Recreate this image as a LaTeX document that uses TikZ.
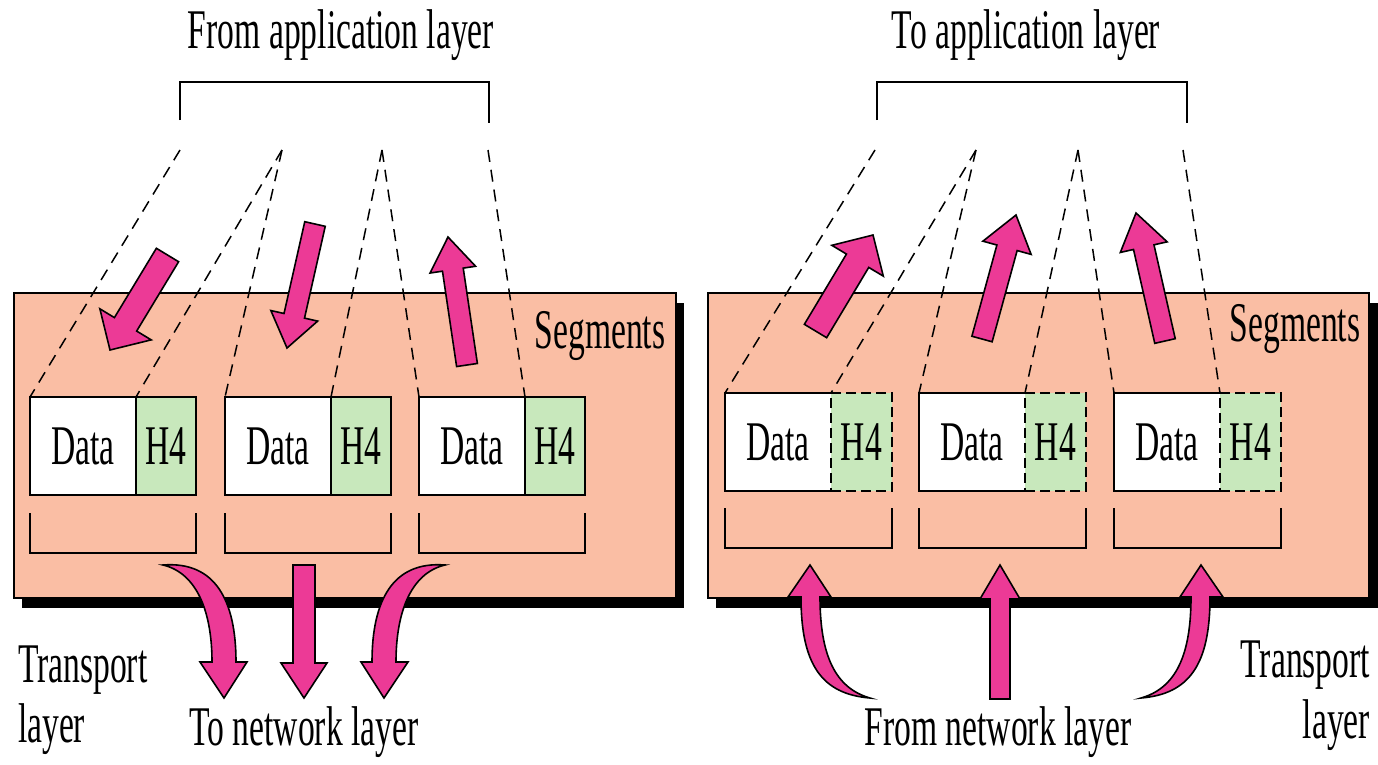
\documentclass[tikz,border=0pt]{standalone}
\usepackage{fontspec}
\newfontfamily\condserif[FakeStretch=0.6]{Liberation Serif}
\usetikzlibrary{calc}
\definecolor{salmon}{RGB}{250,190,164}
\definecolor{hdrgreen}{RGB}{200,232,188}
\definecolor{flowpink}{RGB}{236,58,150}

% block arrow from tail #1 to tip #2: half shaft #3, half head #4, head length #5
\newcommand\blockarrow[5]{%
  \coordinate (#1-base) at ($(#2)!#5!(#1)$);
  \filldraw[flow]
    ($(#1)!#3!90:(#2)$) -- ($(#1-base)!#3!90:(#2)$) -- ($(#1-base)!#4!90:(#2)$)
    -- (#2)
    -- ($(#1-base)!#4!-90:(#2)$) -- ($(#1-base)!#3!-90:(#2)$) -- ($(#1)!#3!-90:(#2)$)
    -- cycle;
}

\begin{document}
\begin{tikzpicture}[x=1pt,y=-1pt,
  txt/.style={font={\condserif\fontsize{56}{60}\selectfont}, inner sep=0pt, outer sep=0pt},
  panel/.style={fill=salmon, draw=black, line width=1.6pt},
  shadowbox/.style={fill=black},
  datacell/.style={txt, fill=white, draw=black, line width=1.8pt, minimum height=98pt, minimum width=106pt},
  hcell/.style={txt, fill=hdrgreen, draw=black, line width=1.8pt, minimum height=98pt, minimum width=60pt},
  rdata/.style={txt, fill=white, minimum height=98pt, minimum width=106pt},
  rhead/.style={txt, fill=hdrgreen, draw=black, line width=2pt, dash pattern=on 10pt off 5pt, minimum height=98pt, minimum width=61pt},
  solidedge/.style={draw=black, line width=1.8pt},
  guide/.style={draw=black, line width=1.5pt, dash pattern=on 12pt off 8pt},
  brace/.style={draw=black, line width=1.8pt},
  flow/.style={fill=flowpink, draw=black, line width=1.6pt, line join=miter},
]
\useasboundingbox (0,0) rectangle (1378,764);

%----------------------------------------------------------------- sender side
\node[txt, anchor=base] (ltitle) at (341,48) {From application layer};
\draw[brace] (180,120) -- (180,82) -- (489,82) -- (489,123);
\coordinate (la) at (180,150);
\coordinate (lb) at (282,150);
\coordinate (lc) at (382,150);
\coordinate (ld) at (488,150);

\fill[shadowbox] (22,303) rectangle (684,608);
\draw[panel] (14,293) rectangle (676,598);

\node[datacell, anchor=north west] (l1d) at (30,397) {Data};
\node[hcell, anchor=north west] (l1h) at (l1d.north east) {H4};
\node[datacell, anchor=north west] (l2d) at (225,397) {Data};
\node[hcell, anchor=north west] (l2h) at (l2d.north east) {H4};
\node[datacell, anchor=north west] (l3d) at (419,397) {Data};
\node[hcell, anchor=north west] (l3h) at (l3d.north east) {H4};

\draw[guide] (la) -- (l1d.north west);
\draw[guide] (lb) -- (l1d.north east);
\draw[guide] (lb) -- (l2d.north west);
\draw[guide] (lc) -- (l2d.north east);
\draw[guide] (lc) -- (l3d.north west);
\draw[guide] (ld) -- (l3d.north east);

\foreach \d/\h in {l1d/l1h, l2d/l2h, l3d/l3h}
  \draw[brace] ([yshift=-18pt]\d.south west) -- ([yshift=-58pt]\d.south west)
     -- ([yshift=-58pt]\h.south east) -- ([yshift=-18pt]\h.south east);

\node[txt, anchor=base] (lseg) at (600,348) {Segments};

\coordinate (la1) at (167.5,255); \coordinate (la1tip) at (110,350);
\coordinate (la2) at (315,224);   \coordinate (la2tip) at (287,348);
\coordinate (la3) at (467,365);   \coordinate (la3tip) at (448,237);
\blockarrow{la1}{la1tip}{13pt}{30pt}{30pt}
\blockarrow{la2}{la2tip}{10.5pt}{24pt}{33pt}
\blockarrow{la3}{la3tip}{10.5pt}{23pt}{33pt}

% segments handed down to the network layer
\filldraw[flow] (163,565) .. controls (215,561) and (236,600) .. (236,662)
  -- (247,662) -- (224,698) -- (200,662) -- (212,662)
  .. controls (212,612) and (197,573) .. (163,565) -- cycle;
\filldraw[flow] (293,565) -- (293,663) -- (281,663) -- (304,698) -- (327,663)
  -- (315,663) -- (315,565) -- cycle;
\filldraw[flow] (445,565) .. controls (393,561) and (372,600) .. (372,662)
  -- (361,662) -- (384,698) -- (408,662) -- (396,662)
  .. controls (396,612) and (411,573) .. (445,565) -- cycle;

\node[txt, anchor=base west] (ltr1) at (18,682) {Transport};
\node[txt, anchor=base west] (ltr2) at (18,742) {layer};
\node[txt, anchor=base] (lnet) at (304,745) {To network layer};

%--------------------------------------------------------------- receiver side
\node[txt, anchor=base] (rtitle) at (1026,48) {To application layer};
\draw[brace] (877,120) -- (877,82) -- (1187,82) -- (1187,123);
\coordinate (ra) at (875,150);
\coordinate (rb) at (976,150);
\coordinate (rc) at (1078,150);
\coordinate (rd) at (1183,150);

\fill[shadowbox] (716,303) rectangle (1378,608);
\draw[panel] (708,293) rectangle (1369,598);

\node[rdata, anchor=north west] (r1d) at (725,393) {Data};
\node[rhead, anchor=north west] (r1h) at (r1d.north east) {H4};
\node[rdata, anchor=north west] (r2d) at (919,393) {Data};
\node[rhead, anchor=north west] (r2h) at (r2d.north east) {H4};
\node[rdata, anchor=north west] (r3d) at (1114,393) {Data};
\node[rhead, anchor=north west] (r3h) at (r3d.north east) {H4};
\foreach \d in {r1d, r2d, r3d}
  \draw[solidedge] (\d.north east) -- (\d.north west) -- (\d.south west) -- (\d.south east);

\draw[guide] (ra) -- (r1d.north west);
\draw[guide] (rb) -- (r1d.north east);
\draw[guide] (rb) -- (r2d.north west);
\draw[guide] (rc) -- (r2d.north east);
\draw[guide] (rc) -- (r3d.north west);
\draw[guide] (rd) -- (r3d.north east);

\foreach \d/\h in {r1d/r1h, r2d/r2h, r3d/r3h}
  \draw[brace] ([yshift=-17pt]\d.south west) -- ([yshift=-57pt]\d.south west)
     -- ([yshift=-57pt]\h.south east) -- ([yshift=-17pt]\h.south east);

\node[txt, anchor=base] (rseg) at (1295,341) {Segments};

\coordinate (ra1) at (815.5,331); \coordinate (ra1tip) at (873,235);
\coordinate (ra2) at (982,339);   \coordinate (ra2tip) at (1016,215);
\coordinate (ra3) at (1165,341);  \coordinate (ra3tip) at (1136,213);
\blockarrow{ra1}{ra1tip}{13pt}{30pt}{30pt}
\blockarrow{ra2}{ra2tip}{10.5pt}{25pt}{34pt}
\blockarrow{ra3}{ra3tip}{10.5pt}{24pt}{35pt}

% segments arriving from the network layer
\filldraw[flow] (870,698) .. controls (822,694) and (801,665) .. (801,597)
  -- (788,597) -- (810,565) -- (831,597) -- (820,597)
  .. controls (820,655) and (835,688) .. (870,698) -- cycle;
\filldraw[flow] (990,699) -- (990,599) -- (980,599) -- (1000,565) -- (1020,599)
  -- (1010,599) -- (1010,699) -- cycle;
\filldraw[flow] (1141,698) .. controls (1189,694) and (1210,665) .. (1210,597)
  -- (1223,597) -- (1201,565) -- (1180,597) -- (1191,597)
  .. controls (1191,655) and (1176,688) .. (1141,698) -- cycle;

\node[txt, anchor=base east] (rtr1) at (1370,677) {Transport};
\node[txt, anchor=base east] (rtr2) at (1370,738) {layer};
\node[txt, anchor=base] (rnet) at (998,745) {From network layer};
\end{tikzpicture}
\end{document}
